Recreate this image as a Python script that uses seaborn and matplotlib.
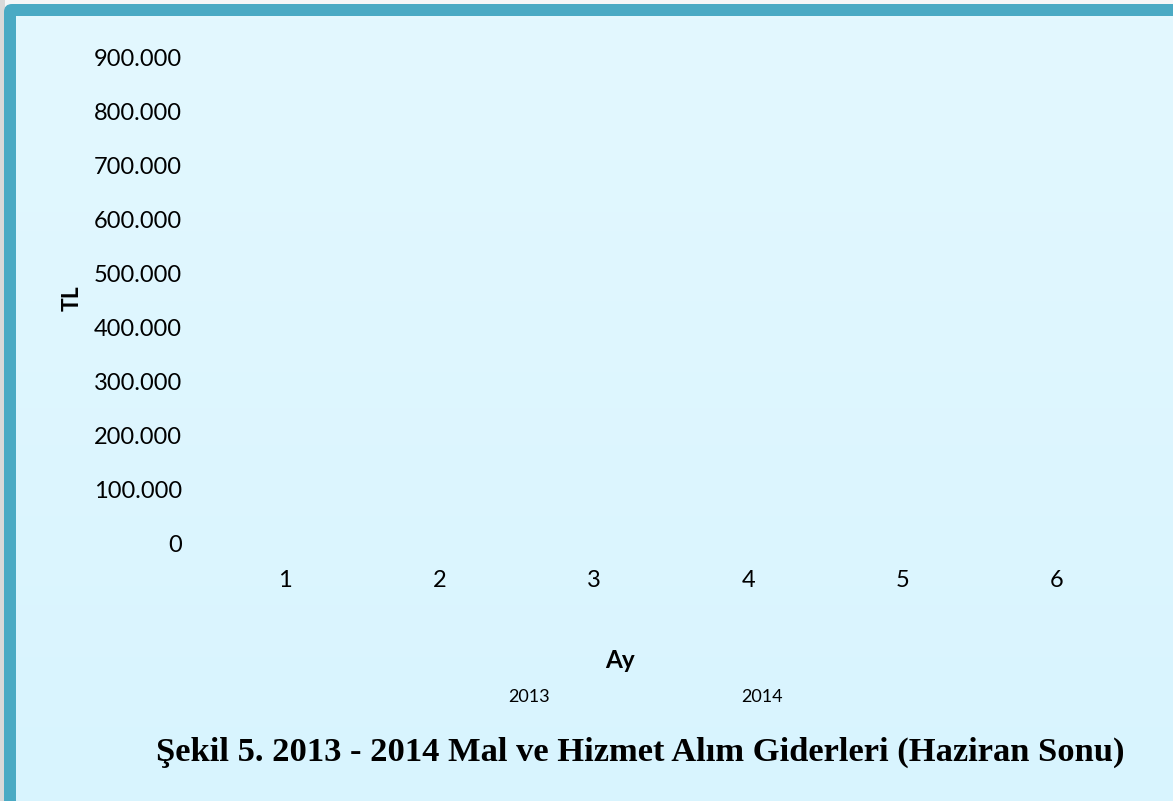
import numpy as np
import pandas as pd
import matplotlib
matplotlib.use("Agg")
import matplotlib.pyplot as plt
from matplotlib.patches import FancyBboxPatch, Rectangle
import seaborn as sns

# Data (no bars are visible in the reference, so every value reads as 0)
months = ["1", "2", "3", "4", "5", "6"]
years = ["2013", "2014"]
values_2013 = [0, 0, 0, 0, 0, 0]
values_2014 = [0, 0, 0, 0, 0, 0]
yticks = [0, 100000, 200000, 300000, 400000, 500000, 600000, 700000, 800000, 900000]

title = "Şekil 5. 2013 - 2014 Mal ve Hizmet Alım Giderleri (Haziran Sonu)"

df = pd.DataFrame({
    "Ay": months * 2,
    "Yil": [years[0]] * len(months) + [years[1]] * len(months),
    "TL": values_2013 + values_2014,
})

sns.set_style("white")
plt.rcParams["font.family"] = ["Lato", "DejaVu Sans"]
plt.rcParams["text.color"] = "black"
plt.rcParams["axes.labelcolor"] = "black"

fig = plt.figure(figsize=(11.73, 8.01), dpi=100)
W, H = 1173, 801

# background: shadow, teal frame, light cyan gradient
bg = fig.add_axes([0, 0, 1, 1], zorder=-5)
bg.set_xlim(0, W)
bg.set_ylim(H, 0)
bg.axis("off")
bg.add_patch(Rectangle((0, 0), W, H, facecolor="#f4f6f7", edgecolor="none"))
bg.add_patch(Rectangle((0, 0), 5, H, facecolor="#d9d9d9", edgecolor="none"))
bg.add_patch(FancyBboxPatch((4, 4), W + 40, H + 40, boxstyle="round,pad=0,rounding_size=8",
                            facecolor="#4aaac4", edgecolor="none"))
grad = np.linspace(0, 1, 256).reshape(-1, 1)
cmap = matplotlib.colors.LinearSegmentedColormap.from_list("bgc", ["#e3f8fe", "#d8f4fe"])
bg.imshow(grad, cmap=cmap, aspect="auto", extent=(16, W, H, 16), zorder=2)

ax = fig.add_axes([208 / W, 1 - 544 / H, 926 / W, 487 / H])
ax.patch.set_alpha(0)

sns.barplot(data=df, x="Ay", y="TL", hue="Yil", palette=["#4f81bd", "#c0504d"],
            edgecolor="none", ax=ax, legend=True)

ax.set_ylim(0, 900000)
ax.set_yticks(yticks)
ax.set_yticklabels([f"{v:,}".replace(",", ".") for v in yticks])
ax.tick_params(axis="both", length=0, pad=18.7, labelsize=17, colors="black")
for s in ax.spines.values():
    s.set_visible(False)

ax.set_xlabel("Ay", fontsize=17.5, fontweight="bold")
ax.set_ylabel("TL", fontsize=16.5, fontweight="bold")
ax.xaxis.set_label_coords((620 - 208) / 926, (544 - 660) / 487)
ax.yaxis.set_label_coords((72 - 208) / 926, 0.505)
ax.xaxis.label.set_va("center")
ax.yaxis.label.set_va("center")

handles, labels = ax.get_legend_handles_labels()
leg = ax.legend(handles, labels, loc="center", bbox_to_anchor=(632 / W, 1 - 697 / H),
                bbox_transform=fig.transFigure, ncol=2, frameon=False, fontsize=13,
                handlelength=1.0, handletextpad=0.5, columnspacing=9.1)
for h in leg.legend_handles:
    h.set_visible(False)
for t in leg.get_texts():
    t.set_color("black")

fig.text(640 / W, 1 - 752 / H, title, ha="center", va="center",
         family="Liberation Serif", fontweight="bold", fontsize=24.8)

fig.savefig("out.png", dpi=100)
